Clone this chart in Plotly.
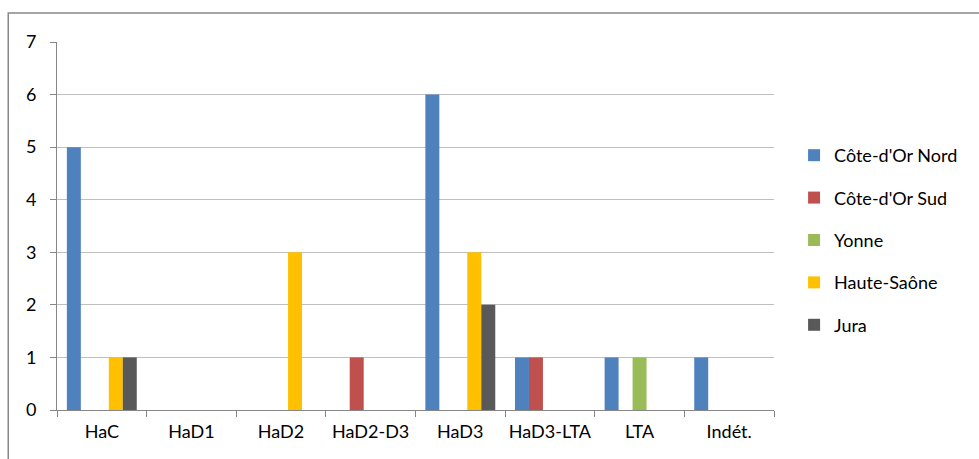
import plotly.graph_objects as go

periods = ["HaC", "HaD1", "HaD2", "HaD2-D3", "HaD3", "HaD3-LTA", "LTA", "Indét."]

cote_dor_nord = [5, 0, 0, 0, 6, 1, 1, 1]
cote_dor_sud = [0, 0, 0, 1, 0, 1, 0, 0]
yonne = [0, 0, 0, 0, 0, 0, 1, 0]
haute_saone = [1, 0, 3, 0, 3, 0, 0, 0]
jura = [1, 0, 0, 0, 2, 0, 0, 0]

series = [
    ("Côte-d'Or Nord", cote_dor_nord, "#4F81BD"),
    ("Côte-d'Or Sud", cote_dor_sud, "#C0504D"),
    ("Yonne", yonne, "#9BBB59"),
    ("Haute-Saône", haute_saone, "#FFC000"),
    ("Jura", jura, "#595959"),
]

fig = go.Figure()
for i, (name, vals, color) in enumerate(series):
    fig.add_trace(
        go.Bar(
            x=periods,
            y=vals,
            name=name,
            marker=dict(color=color, line=dict(width=0)),
            legendgroup=str(i),
        )
    )

fig.update_layout(
    width=979,
    height=459,
    barmode="group",
    bargap=0.22,
    bargroupgap=0,
    plot_bgcolor="white",
    paper_bgcolor="white",
    font=dict(family="Lato", size=18, color="black"),
    margin=dict(l=57, r=205, t=42, b=49, autoexpand=False),
    showlegend=True,
    legend=dict(
        x=1.028,
        y=0.462,
        xanchor="left",
        yanchor="middle",
        tracegroupgap=16,
        font=dict(size=18),
        itemwidth=30,
    ),
    xaxis=dict(
        type="category",
        tickson="boundaries",
        ticks="outside",
        ticklen=6,
        tickcolor="#868686",
        tickangle=0,
        automargin=False,
        showline=True,
        linecolor="#868686",
        showgrid=False,
        ticklabelstandoff=5,
    ),
    yaxis=dict(
        range=[0, 7],
        dtick=1,
        ticks="outside",
        ticklen=6,
        tickcolor="#868686",
        automargin=False,
        showline=True,
        linecolor="#868686",
        gridcolor="#BFBFBF",
        zeroline=False,
        ticklabelstandoff=10,
    ),
    shapes=[
        dict(
            type="rect",
            xref="paper",
            yref="paper",
            x0=-0.068,
            x1=1.4,
            y0=-0.3,
            y1=1.0788,
            line=dict(color="#888888", width=1.5),
        )
    ],
)

fig.write_html(
    "out.html",
    config={"displayModeBar": False},
    post_script="document.body.style.margin='0';",
)
